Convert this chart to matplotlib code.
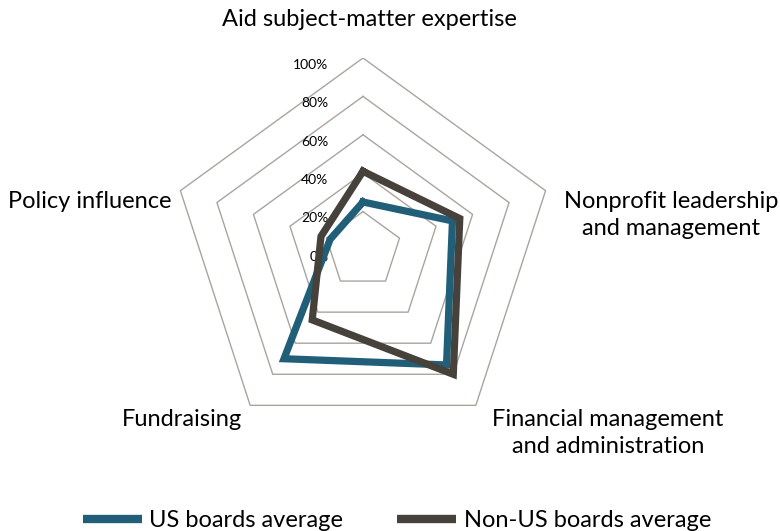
import numpy as np
import matplotlib.pyplot as plt

plt.rcParams['font.family'] = ['Lato', 'DejaVu Sans']

categories = ['Aid subject-matter expertise',
              'Nonprofit leadership\nand management',
              'Financial management\nand administration',
              'Fundraising',
              'Policy influence']
us_values = [0.25, 0.49, 0.74, 0.70, 0.18]
non_us_values = [0.41, 0.53, 0.80, 0.45, 0.23]
grid_levels = [0.2, 0.4, 0.6, 0.8, 1.0]
tick_labels = ['0%', '20%', '40%', '60%', '80%', '100%']

US_COLOR = '#215f78'
NON_US_COLOR = '#46413b'
GRID_COLOR = '#aaa49e'

# angles clockwise from the top
n = len(categories)
angles = np.pi / 2 - np.arange(n) * 2 * np.pi / n


def to_xy(values):
    r = np.array(list(values) + [values[0]])
    a = np.append(angles, angles[0])
    return r * np.cos(a), r * np.sin(a)


fig = plt.figure(figsize=(7.8, 5.31), dpi=100)
# center at (363, 250) px, radius 192 px
ax = fig.add_axes([171 / 780, 89 / 531, 384 / 780, 384 / 531])
ax.set_xlim(-1, 1)
ax.set_ylim(-1, 1)
ax.axis('off')

# pentagon grid
for lev in grid_levels:
    gx, gy = to_xy([lev] * n)
    ax.plot(gx, gy, color=GRID_COLOR, lw=1.0, zorder=1)

# radial tick labels
for i, lab in enumerate(tick_labels):
    ax.text(-0.18, i * 0.2 - 0.035, lab, ha='right', va='center',
            fontsize=10, color='black', zorder=2)

x, y = to_xy(us_values)
ax.plot(x, y, color=US_COLOR, lw=5.2, solid_joinstyle='miter',
        label='US boards average', zorder=3)
x, y = to_xy(non_us_values)
ax.plot(x, y, color=NON_US_COLOR, lw=5.2, solid_joinstyle='miter',
        label='Non-US boards average', zorder=4)

# category labels
label_pos = [(0.036, 1.198, 'center'),
             (1.604, 0.182, 'center'),
             (1.276, -0.953, 'center'),
             (-0.943, -0.885, 'center'),
             (-0.995, 0.255, 'right')]
for cat, (lx, ly, ha) in zip(categories, label_pos):
    ax.text(lx, ly, cat, ha=ha, va='center', multialignment='center',
            fontsize=17, linespacing=1.4, clip_on=False)

fig.legend(loc='lower center', bbox_to_anchor=(397 / 780, -0.04), ncol=2,
           frameon=False, fontsize=17, handlelength=2.5, handletextpad=0.3,
           columnspacing=2.3)
for line in fig.legends[0].get_lines():
    line.set_linewidth(6)
    line.set_solid_capstyle('butt')

fig.savefig('out.png', dpi=100)
